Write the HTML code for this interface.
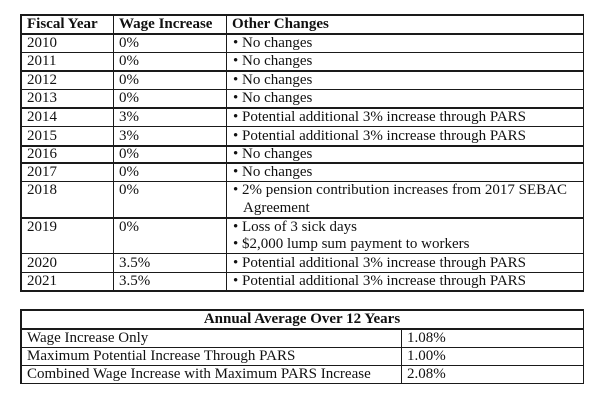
<!DOCTYPE html>
<html><head><style>
body{margin:0;width:600px;height:400px;background:#fff;position:relative;overflow:hidden;font-family:"Liberation Serif",serif;font-size:15px;color:#111}
.h{position:absolute;height:1.6px;background:#1a1a1a}
.v{position:absolute;width:1.6px;background:#1a1a1a}
.t{position:absolute;line-height:18px;white-space:nowrap}
b{font-weight:bold}
</style></head><body>
<!-- table 1 -->
<div class="h" style="left:20px;width:564px;top:14px"></div>
<div class="h" style="left:20px;width:564px;top:33px"></div>
<div class="h" style="left:20px;width:564px;top:51.5px"></div>
<div class="h" style="left:20px;width:564px;top:70px"></div>
<div class="h" style="left:20px;width:564px;top:88.7px"></div>
<div class="h" style="left:20px;width:564px;top:107px"></div>
<div class="h" style="left:20px;width:564px;top:125.7px"></div>
<div class="h" style="left:20px;width:564px;top:145px"></div>
<div class="h" style="left:20px;width:564px;top:162.3px"></div>
<div class="h" style="left:20px;width:564px;top:180.7px"></div>
<div class="h" style="left:20px;width:564px;top:217.3px"></div>
<div class="h" style="left:20px;width:564px;top:252.7px"></div>
<div class="h" style="left:20px;width:564px;top:271.7px"></div>
<div class="h" style="left:20px;width:564px;top:290px"></div>
<div class="v" style="left:20px;top:14px;height:277px"></div>
<div class="v" style="left:112.5px;top:14px;height:277px"></div>
<div class="v" style="left:225.5px;top:14px;height:277px"></div>
<div class="v" style="left:582.5px;top:14px;height:277px"></div>

<div class="t" style="left:27px;top:15px"><b>Fiscal Year</b></div>
<div class="t" style="left:119px;top:15px"><b>Wage Increase</b></div>
<div class="t" style="left:232px;top:15px"><b>Other Changes</b></div>

<div class="t" style="left:27px;top:33.5px">2010</div><div class="t" style="left:119px;top:33.5px">0%</div><div class="t" style="left:233px;top:33.5px">• No changes</div>
<div class="t" style="left:27px;top:52px">2011</div><div class="t" style="left:119px;top:52px">0%</div><div class="t" style="left:233px;top:52px">• No changes</div>
<div class="t" style="left:27px;top:70.5px">2012</div><div class="t" style="left:119px;top:70.5px">0%</div><div class="t" style="left:233px;top:70.5px">• No changes</div>
<div class="t" style="left:27px;top:89px">2013</div><div class="t" style="left:119px;top:89px">0%</div><div class="t" style="left:233px;top:89px">• No changes</div>
<div class="t" style="left:27px;top:107.5px">2014</div><div class="t" style="left:119px;top:107.5px">3%</div><div class="t" style="left:233px;top:107.5px">• Potential additional 3% increase through PARS</div>
<div class="t" style="left:27px;top:126.5px">2015</div><div class="t" style="left:119px;top:126.5px">3%</div><div class="t" style="left:233px;top:126.5px">• Potential additional 3% increase through PARS</div>
<div class="t" style="left:27px;top:145px">2016</div><div class="t" style="left:119px;top:145px">0%</div><div class="t" style="left:233px;top:145px">• No changes</div>
<div class="t" style="left:27px;top:163px">2017</div><div class="t" style="left:119px;top:163px">0%</div><div class="t" style="left:233px;top:163px">• No changes</div>
<div class="t" style="left:27px;top:181px">2018</div><div class="t" style="left:119px;top:181px">0%</div><div class="t" style="left:233px;top:181px">• 2% pension contribution increases from 2017 SEBAC</div>
<div class="t" style="left:243px;top:198.5px">Agreement</div>
<div class="t" style="left:27px;top:217.5px">2019</div><div class="t" style="left:119px;top:217.5px">0%</div><div class="t" style="left:233px;top:217.5px">• Loss of 3 sick days</div>
<div class="t" style="left:233px;top:235px">• $2,000 lump sum payment to workers</div>
<div class="t" style="left:27px;top:253.5px">2020</div><div class="t" style="left:119px;top:253.5px">3.5%</div><div class="t" style="left:233px;top:253.5px">• Potential additional 3% increase through PARS</div>
<div class="t" style="left:27px;top:272px">2021</div><div class="t" style="left:119px;top:272px">3.5%</div><div class="t" style="left:233px;top:272px">• Potential additional 3% increase through PARS</div>

<!-- table 2 -->
<div class="h" style="left:20px;width:564px;top:309px"></div>
<div class="h" style="left:20px;width:564px;top:328px"></div>
<div class="h" style="left:20px;width:564px;top:346.5px"></div>
<div class="h" style="left:20px;width:564px;top:364.5px"></div>
<div class="h" style="left:20px;width:564px;top:382.5px"></div>
<div class="v" style="left:20px;top:309px;height:75px"></div>
<div class="v" style="left:400.5px;top:328px;height:55px"></div>
<div class="v" style="left:582.5px;top:309px;height:75px"></div>
<div class="t" style="left:20px;width:564px;text-align:center;top:310px"><b>Annual Average Over 12 Years</b></div>
<div class="t" style="left:27px;top:328.5px">Wage Increase Only</div><div class="t" style="left:407px;top:328.5px">1.08%</div>
<div class="t" style="left:27px;top:346.5px">Maximum Potential Increase Through PARS</div><div class="t" style="left:407px;top:346.5px">1.00%</div>
<div class="t" style="left:27px;top:364.5px">Combined Wage Increase with Maximum PARS Increase</div><div class="t" style="left:407px;top:364.5px">2.08%</div>
</body></html>
